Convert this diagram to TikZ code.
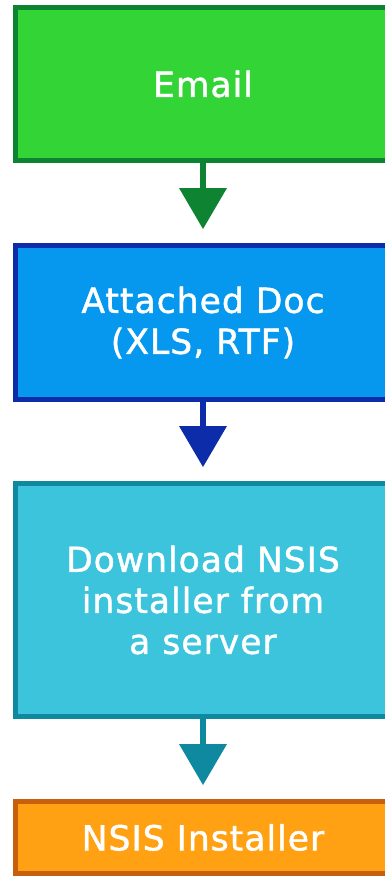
\documentclass[tikz,border=0pt]{standalone}
\usepackage{fontspec}
\setmainfont{DejaVu Sans}[LetterSpace=3, FakeBold=1.3]
\usetikzlibrary{arrows.meta}
\definecolor{gfill}{RGB}{51,212,54}
\definecolor{gline}{RGB}{14,132,51}
\definecolor{bfill}{RGB}{5,152,238}
\definecolor{bline}{RGB}{13,44,170}
\definecolor{tfill}{RGB}{60,196,221}
\definecolor{tline}{RGB}{14,137,160}
\definecolor{ofill}{RGB}{255,161,18}
\definecolor{oline}{RGB}{199,96,12}
\tikzset{
  box/.style={rectangle, line width=5pt, minimum width=376pt, inner sep=0pt,
    text=white, align=center, font=\fontsize{34.5}{41}\selectfont},
  flow/.style={line width=6pt, shorten >=14pt,
    -{Triangle[width=48pt,length=41pt,line width=0pt]}},
}
\begin{document}
\begin{tikzpicture}[x=1pt,y=-1pt]
\useasboundingbox (0,0) rectangle (384,876);
\node[box, draw=gline, fill=gfill, minimum height=153pt] (email) at (203,84) {Email};
\node[box, draw=bline, fill=bfill, minimum height=154pt] (doc) at (203,322.5) {Attached Doc\\(XLS, RTF)};
\node[box, draw=tline, fill=tfill, minimum height=233pt] (dl) at (203,600) {Download NSIS\\installer from\\a server};
\node[box, draw=oline, fill=ofill, minimum height=72pt] (nsis) at (203,837.5) {NSIS Installer};
\draw[flow, gline] (email.south) -- (doc.north);
\draw[flow, bline] (doc.south) -- (dl.north);
\draw[flow, tline] (dl.south) -- (nsis.north);
\end{tikzpicture}
\end{document}
